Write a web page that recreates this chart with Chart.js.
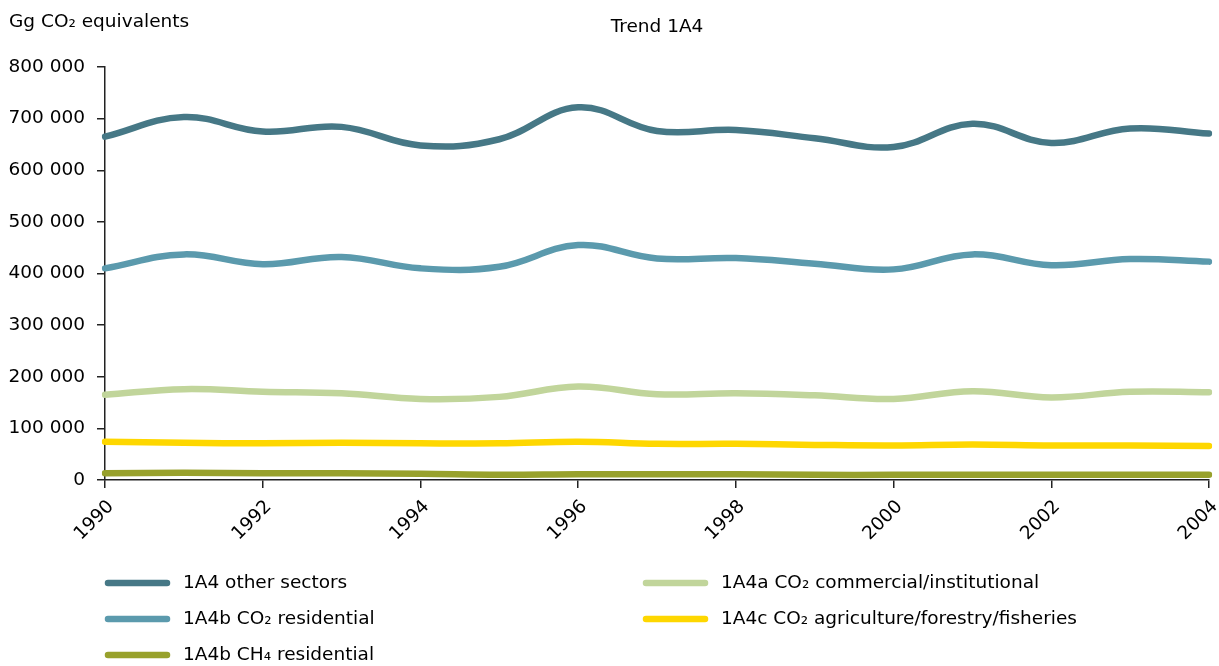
<!DOCTYPE html>
<html>
<head>
<meta charset="utf-8">
<script src="https://cdn.jsdelivr.net/npm/chart.js@4.4.1/dist/chart.umd.min.js"></script>
<style>
  html, body { margin: 0; padding: 0; background: #fff; }
  #wrap { width: 1219px; height: 666px; position: relative; }
</style>
</head>
<body>
<div id="wrap"><canvas id="chart"></canvas></div>
<script>
const chartTitle = 'Trend 1A4';
const unitLabel = 'Gg CO₂ equivalents';

const years = ['1990', '1991', '1992', '1993', '1994', '1995', '1996', '1997',
  '1998', '1999', '2000', '2001', '2002', '2003', '2004'];

const otherSectors = [665000, 703000, 675000, 684000, 648000, 660000, 722000, 676000,
  678000, 662000, 645000, 690000, 653000, 681000, 671000];
const commercialCO2 = [165000, 176000, 171000, 168000, 157000, 161000, 181000, 166000,
  168000, 164000, 157000, 172000, 160000, 171000, 170000];
const residentialCO2 = [410000, 437000, 418000, 432000, 410000, 413000, 455000, 429000,
  430000, 419000, 408000, 437000, 416000, 428000, 423000];
const agricultureCO2 = [74000, 72000, 71000, 72000, 71000, 71000, 74000, 70000,
  70000, 68000, 67000, 69000, 67000, 67000, 66000];
const residentialCH4 = [13000, 14000, 13000, 13000, 12000, 10000, 11000, 11000,
  11000, 10000, 10000, 10000, 10000, 10000, 10000];

const seriesNames = ['1A4 other sectors', '1A4a CO₂ commercial/institutional',
  '1A4b CO₂ residential', '1A4c CO₂ agriculture/forestry/fisheries', '1A4b CH₄ residential'];
const seriesColors = ['#467886', '#c1d59b', '#5b9aad', '#fed700', '#98a12c'];
const seriesData = [otherSectors, commercialCO2, residentialCO2, agricultureCO2, residentialCH4];

const FONT = '"DejaVu Sans", Verdana, sans-serif';
const FONT_SIZE = 18.5;

// title, unit label and a two-column legend drawn on the canvas
const textPlugin = {
  id: 'texts',
  afterDraw(chart) {
    const ctx = chart.ctx;
    const area = chart.chartArea;
    ctx.save();
    ctx.fillStyle = '#000';
    ctx.font = FONT_SIZE + 'px ' + FONT;
    ctx.textBaseline = 'middle';
    ctx.textAlign = 'left';
    ctx.fillText(unitLabel, 9, 22);
    ctx.textAlign = 'center';
    ctx.fillText(chartTitle, (area.left + area.right) / 2, 27);

    ctx.textAlign = 'left';
    chart.data.datasets.forEach((ds, i) => {
      const col = i % 2;
      const row = Math.floor(i / 2);
      const x = col === 0 ? 105 : 643;
      const y = 583 + row * 36;
      ctx.strokeStyle = ds.borderColor;
      ctx.lineWidth = 6.5;
      ctx.lineCap = 'round';
      ctx.beginPath();
      ctx.moveTo(x + 3, y);
      ctx.lineTo(x + 62, y);
      ctx.stroke();
      ctx.fillText(ds.label, x + 78, y);
    });
    ctx.restore();
  }
};

new Chart(document.getElementById('chart'), {
  type: 'line',
  data: {
    labels: years,
    datasets: seriesNames.map((name, i) => ({
      label: name,
      data: seriesData[i],
      borderColor: seriesColors[i],
      backgroundColor: seriesColors[i],
      borderWidth: 6.5,
      borderCapStyle: 'round',
      pointRadius: 0,
      tension: 0.4,
      fill: false
    }))
  },
  options: {
    responsive: true,
    maintainAspectRatio: false,
    animation: false,
    layout: { padding: { left: 0, top: 67, right: 10, bottom: 86 } },
    plugins: {
      legend: { display: false },
      title: { display: false },
      tooltip: { enabled: false }
    },
    scales: {
      x: {
        type: 'category',
        offset: false,
        border: { color: '#222', width: 1.5 },
        grid: { drawOnChartArea: false, color: '#222', lineWidth: 1.5, tickLength: 8 },
        ticks: {
          autoSkip: false,
          maxRotation: 45,
          minRotation: 45,
          padding: 8,
          labelOffset: 6,
          color: '#000',
          font: { family: FONT, size: FONT_SIZE },
          callback: function (value, index) {
            const label = this.getLabelForValue(value);
            return Number(label) % 2 === 0 ? label : null;
          }
        },
        afterFit: (scale) => {
          scale.height = 100;
          scale.paddingLeft = 0;
          scale.paddingRight = 0;
        }
      },
      y: {
        min: 0,
        max: 800000,
        border: { color: '#222', width: 1.5 },
        grid: { drawOnChartArea: false, color: '#222', lineWidth: 1.5, tickLength: 8 },
        ticks: {
          stepSize: 100000,
          padding: 12,
          color: '#000',
          font: { family: FONT, size: FONT_SIZE },
          callback: (v) => v === 0 ? '0' : String(v).replace(/\B(?=(\d{3})+(?!\d))/g, ' ')
        },
        afterFit: (scale) => { scale.width = 105; }
      }
    }
  },
  plugins: [textPlugin]
});
</script>
</body>
</html>
